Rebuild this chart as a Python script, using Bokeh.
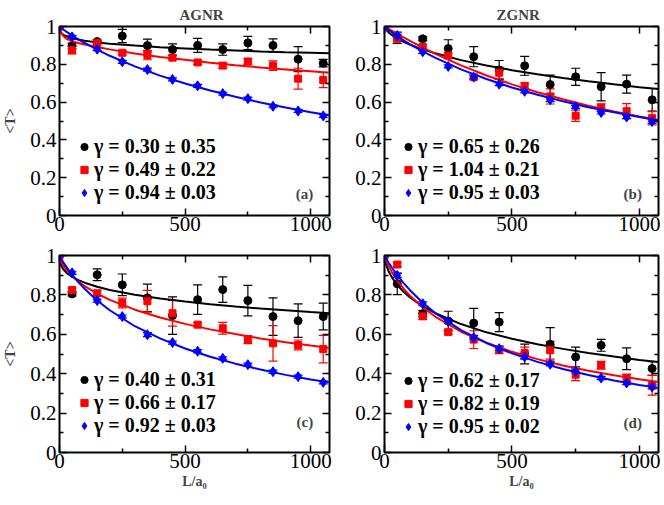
import math
from bokeh.plotting import figure
from bokeh.models import (ColumnDataSource, Whisker, TeeHead, Legend, LegendItem,
                          Label, FixedTicker, LinearAxis, CustomJSTickFormatter, Range1d, Title)
from bokeh.layouts import column, row
from bokeh.embed import file_html
from bokeh.resources import INLINE

# ---------------- data ----------------
L_pts = [0, 50, 150, 250, 350, 450, 550, 650, 750, 850, 950, 1050]
L_fit = [0, 5, 15, 30, 50, 75, 100, 150, 200, 300, 400, 500, 600, 700, 800, 900, 1000, 1075]

x_ticks = [0, 500, 1000]
x_minor = [250, 750]
y_ticks = [0, 0.2, 0.4, 0.6, 0.8, 1.0]
y_minor = [0.1, 0.3, 0.5, 0.7, 0.9]

titles = ["AGNR", "ZGNR"]
tags = ["(a)", "(b)", "(c)", "(d)"]
y_label = "<T>"
x_label = "L/a\u2080"

# panel (a)
a_black = [1.0, 0.897, 0.92, 0.950, 0.899, 0.878, 0.900, 0.878, 0.913, 0.900, 0.827, 0.806]
a_black_err = [0, 0.015, 0.01, 0.035, 0.034, 0.03, 0.037, 0.03, 0.035, 0.034, 0.066, 0.02]
a_red = [1.0, 0.875, 0.913, 0.861, 0.849, 0.835, 0.810, 0.793, 0.815, 0.793, 0.724, 0.717]
a_red_err = [0, 0.02, 0.01, 0.01, 0.025, 0.012, 0.01, 0.015, 0.015, 0.025, 0.055, 0.04]
a_blue = [1.0, 0.945, 0.880, 0.813, 0.772, 0.720, 0.686, 0.645, 0.618, 0.578, 0.553, 0.527]
a_blue_err = [0, 0.008, 0.008, 0.008, 0.008, 0.008, 0.008, 0.008, 0.008, 0.008, 0.008, 0.008]
a_black_fit = [1, 0.968, 0.956, 0.947, 0.938, 0.931, 0.925, 0.916, 0.909, 0.899, 0.890, 0.884, 0.878, 0.873, 0.868, 0.864, 0.861, 0.858]
a_red_fit = [1, 0.972, 0.950, 0.933, 0.922, 0.913, 0.905, 0.892, 0.879, 0.857, 0.839, 0.824, 0.808, 0.795, 0.783, 0.773, 0.763, 0.755]
a_blue_fit = [1, 0.994, 0.984, 0.970, 0.953, 0.932, 0.913, 0.878, 0.845, 0.789, 0.740, 0.698, 0.661, 0.628, 0.598, 0.571, 0.546, 0.530]
a_labels = ["γ = 0.30 ± 0.35", "γ = 0.49 ± 0.22", "γ = 0.94 ± 0.03"]

# panel (b)
b_black = [1.0, 0.940, 0.935, 0.883, 0.840, 0.770, 0.792, 0.693, 0.734, 0.681, 0.695, 0.612]
b_black_err = [0, 0.03, 0.01, 0.047, 0.053, 0.05, 0.05, 0.05, 0.045, 0.075, 0.048, 0.06]
b_red = [1.0, 0.935, 0.892, 0.846, 0.732, 0.755, 0.686, 0.630, 0.528, 0.571, 0.552, 0.515]
b_red_err = [0, 0.015, 0.01, 0.015, 0.01, 0.03, 0.015, 0.04, 0.03, 0.02, 0.04, 0.035]
b_blue = [1.0, 0.952, 0.866, 0.789, 0.732, 0.695, 0.657, 0.612, 0.575, 0.545, 0.521, 0.497]
b_blue_err = [0, 0.008, 0.008, 0.008, 0.01, 0.008, 0.008, 0.01, 0.008, 0.008, 0.008, 0.01]
b_black_fit = [1, 0.985, 0.970, 0.954, 0.937, 0.919, 0.904, 0.879, 0.858, 0.822, 0.794, 0.769, 0.747, 0.727, 0.710, 0.694, 0.679, 0.669]
b_red_fit = [1, 0.996, 0.989, 0.977, 0.961, 0.942, 0.924, 0.888, 0.855, 0.794, 0.741, 0.694, 0.652, 0.615, 0.581, 0.551, 0.524, 0.505]
b_blue_fit = [1, 0.994, 0.983, 0.968, 0.949, 0.927, 0.906, 0.868, 0.834, 0.773, 0.722, 0.677, 0.639, 0.604, 0.573, 0.546, 0.521, 0.503]
b_labels = ["γ = 0.65 ± 0.26", "γ = 1.04 ± 0.21", "γ = 0.95 ± 0.03"]

# panel (c)
c_black = [1.0, 0.805, 0.902, 0.851, 0.785, 0.695, 0.776, 0.827, 0.771, 0.690, 0.669, 0.690]
c_black_err = [0, 0.01, 0.03, 0.055, 0.07, 0.095, 0.075, 0.065, 0.077, 0.095, 0.085, 0.068]
c_red = [1.0, 0.825, 0.808, 0.759, 0.768, 0.707, 0.649, 0.631, 0.573, 0.554, 0.546, 0.525]
c_red_err = [0, 0.01, 0.015, 0.025, 0.055, 0.065, 0.01, 0.03, 0.02, 0.09, 0.025, 0.07]
c_blue = [1.0, 0.912, 0.771, 0.690, 0.598, 0.558, 0.514, 0.478, 0.446, 0.410, 0.385, 0.356]
c_blue_err = [0, 0.008, 0.008, 0.008, 0.01, 0.008, 0.008, 0.008, 0.008, 0.008, 0.008, 0.008]
c_black_fit = [1, 0.954, 0.930, 0.910, 0.892, 0.875, 0.862, 0.841, 0.825, 0.801, 0.782, 0.766, 0.753, 0.741, 0.731, 0.722, 0.713, 0.707]
c_red_fit = [1, 0.975, 0.950, 0.923, 0.896, 0.868, 0.845, 0.806, 0.775, 0.725, 0.685, 0.653, 0.625, 0.601, 0.579, 0.560, 0.543, 0.531]
c_blue_fit = [1, 0.987, 0.966, 0.937, 0.903, 0.865, 0.831, 0.772, 0.722, 0.641, 0.579, 0.528, 0.486, 0.451, 0.421, 0.394, 0.371, 0.356]
c_labels = ["γ = 0.40 ± 0.31", "γ = 0.66 ± 0.17", "γ = 0.92 ± 0.03"]

# panel (d)
d_black = [1.0, 0.856, 0.705, 0.667, 0.657, 0.662, 0.500, 0.549, 0.485, 0.544, 0.476, 0.426]
d_black_err = [0, 0.055, 0.015, 0.05, 0.075, 0.048, 0.05, 0.085, 0.05, 0.03, 0.055, 0.035]
d_red = [1.0, 0.954, 0.691, 0.611, 0.573, 0.522, 0.505, 0.519, 0.395, 0.443, 0.378, 0.341]
d_red_err = [0, 0.01, 0.015, 0.01, 0.045, 0.02, 0.03, 0.045, 0.03, 0.02, 0.02, 0.05]
d_blue = [1.0, 0.899, 0.755, 0.666, 0.583, 0.527, 0.485, 0.448, 0.412, 0.378, 0.353, 0.333]
d_blue_err = [0, 0.01, 0.01, 0.01, 0.012, 0.01, 0.01, 0.008, 0.008, 0.008, 0.008, 0.01]
d_black_fit = [1, 0.960, 0.923, 0.887, 0.850, 0.816, 0.787, 0.742, 0.707, 0.652, 0.610, 0.577, 0.549, 0.526, 0.505, 0.487, 0.470, 0.459]
d_red_fit = [1, 0.979, 0.949, 0.913, 0.873, 0.832, 0.796, 0.737, 0.689, 0.613, 0.557, 0.511, 0.474, 0.442, 0.415, 0.392, 0.372, 0.358]
d_blue_fit = [1, 0.988, 0.966, 0.936, 0.900, 0.860, 0.824, 0.760, 0.707, 0.621, 0.556, 0.503, 0.460, 0.424, 0.393, 0.366, 0.343, 0.328]
d_labels = ["γ = 0.62 ± 0.17", "γ = 0.82 ± 0.19", "γ = 0.95 ± 0.02"]

# ---------------- style ----------------
SERIF = "Liberation Serif"
COLORS = ["#000000", "#ff0000", "#0000ff"]
MARKERS = ["circle", "square", "diamond"]
MSIZES = [8, 7, 10]
X_MAX = 1075


def style_axis(ax, ticks, minor, formatter, hidden=False):
    ax.ticker = FixedTicker(ticks=ticks, minor_ticks=minor)
    ax.formatter = formatter
    ax.major_tick_in = 7
    ax.major_tick_out = 0
    ax.minor_tick_in = 4
    ax.minor_tick_out = 0
    ax.major_tick_line_width = 1.5
    ax.minor_tick_line_width = 1.5
    ax.major_tick_line_color = "black"
    ax.minor_tick_line_color = "black"
    ax.axis_line_color = None
    if hidden:
        ax.major_label_text_font_size = "0px"
        ax.major_label_standoff = 0
    else:
        ax.major_label_text_font = SERIF
        ax.major_label_text_font_size = "21px"
        ax.major_label_text_color = "black"


def make_panel(pts, errs, fits, labels, tag, tag_y, title, title_off,
               legend_xy, left, frame_w, right, top, frame_h, bottom,
               ylabel, xlabel):
    p = figure(width=left + frame_w + right, height=top + frame_h + bottom,
               min_border_left=left, min_border_right=right,
               min_border_top=top, min_border_bottom=bottom,
               x_range=Range1d(0, X_MAX), y_range=Range1d(0, 1),
               output_backend="svg", toolbar_location=None,
               background_fill_color="white", border_fill_color="white")
    p.xgrid.visible = False
    p.ygrid.visible = False
    p.outline_line_color = "black"
    p.outline_line_width = 2
    p.outline_line_alpha = 1

    yfmt = CustomJSTickFormatter(code="return String(Math.round(tick*10)/10);")
    blank = CustomJSTickFormatter(code="return '';")
    style_axis(p.xaxis[0], x_ticks, x_minor, CustomJSTickFormatter(code="return String(tick);"))
    p.xaxis[0].major_label_standoff = 1
    style_axis(p.yaxis[0], y_ticks, y_minor, yfmt)
    p.yaxis[0].major_label_standoff = 3
    if ylabel:
        p.yaxis[0].axis_label = ylabel
        p.yaxis[0].axis_label_text_font = SERIF
        p.yaxis[0].axis_label_text_font_style = "bold"
        p.yaxis[0].axis_label_text_font_size = "14px"
        p.yaxis[0].axis_label_standoff = 9
    if xlabel:
        p.xaxis[0].axis_label = xlabel
        p.xaxis[0].axis_label_text_font = SERIF
        p.xaxis[0].axis_label_text_font_style = "bold"
        p.xaxis[0].axis_label_text_font_size = "14px"
        p.xaxis[0].axis_label_standoff = 3
    top_ax = LinearAxis()
    style_axis(top_ax, x_ticks, x_minor, blank, hidden=True)
    p.add_layout(top_ax, "above")
    if title:
        p.add_layout(Title(text=title, align="left", offset=title_off, standoff=8,
                           text_font=SERIF, text_font_style="bold",
                           text_font_size="15px"), "above")
    right_ax = LinearAxis()
    style_axis(right_ax, y_ticks, y_minor, blank, hidden=True)
    p.add_layout(right_ax, "right")

    items = []
    for i in range(3):
        T = pts[i]
        e = errs[i]
        src = ColumnDataSource(dict(L=L_pts, T=T,
                                    upper=[t + d for t, d in zip(T, e)],
                                    lower=[t - d for t, d in zip(T, e)]))
        w = Whisker(base="L", upper="upper", lower="lower", source=src,
                    dimension="height", line_color=COLORS[i], line_width=1.2,
                    upper_head=TeeHead(size=9, line_color=COLORS[i], line_width=1.2),
                    lower_head=TeeHead(size=9, line_color=COLORS[i], line_width=1.2))
        p.add_layout(w)
        p.line(L_fit, fits[i], line_color=COLORS[i], line_width=2)
        r = p.scatter("L", "T", source=src, marker=MARKERS[i], size=MSIZES[i],
                      fill_color=COLORS[i], line_color=COLORS[i], line_width=1)
        items.append(LegendItem(label=labels[i], renderers=[r]))

    leg = Legend(items=items, location=legend_xy, orientation="vertical",
                 padding=0, margin=0, spacing=0,
                 glyph_width=18, glyph_height=23, label_height=23, label_standoff=1,
                 label_text_font=SERIF, label_text_font_style="bold",
                 label_text_font_size="20px", label_text_color="black",
                 border_line_color=None, background_fill_alpha=0)
    p.add_layout(leg)

    p.add_layout(Label(x=1010, y=tag_y, text=tag, text_align="right",
                       text_baseline="middle", text_font=SERIF,
                       text_font_style="bold", text_font_size="15px"))
    return p


# layout: (left border, frame width, right border, top border, frame height, bottom border)
pa = make_panel([a_black, a_red, a_blue], [a_black_err, a_red_err, a_blue_err],
                [a_black_fit, a_red_fit, a_blue_fit], a_labels, tags[0], 0.113,
                titles[0], 120, (16, 11), 57, 272, 7, 21, 194, 26, y_label, None)
pb = make_panel([b_black, b_red, b_blue], [b_black_err, b_red_err, b_blue_err],
                [b_black_fit, b_red_fit, b_blue_fit], b_labels, tags[1], 0.116,
                titles[1], 112, (15, 11), 48, 274, 4, 21, 194, 26, None, None)
pc = make_panel([c_black, c_red, c_blue], [c_black_err, c_red_err, c_blue_err],
                [c_black_fit, c_red_fit, c_blue_fit], c_labels, tags[2], 0.153,
                None, 0, (16, 15), 57, 272, 7, 14, 197, 50, y_label, x_label)
pd_ = make_panel([d_black, d_red, d_blue], [d_black_err, d_red_err, d_blue_err],
                 [d_black_fit, d_red_fit, d_blue_fit], d_labels, tags[3], 0.151,
                 None, 0, (15, 14), 48, 274, 4, 14, 197, 50, None, x_label)

layout = column(row(pa, pb, spacing=0), row(pc, pd_, spacing=0), spacing=0)

with open("out.html", "w") as f:
    f.write(file_html(layout, INLINE))
